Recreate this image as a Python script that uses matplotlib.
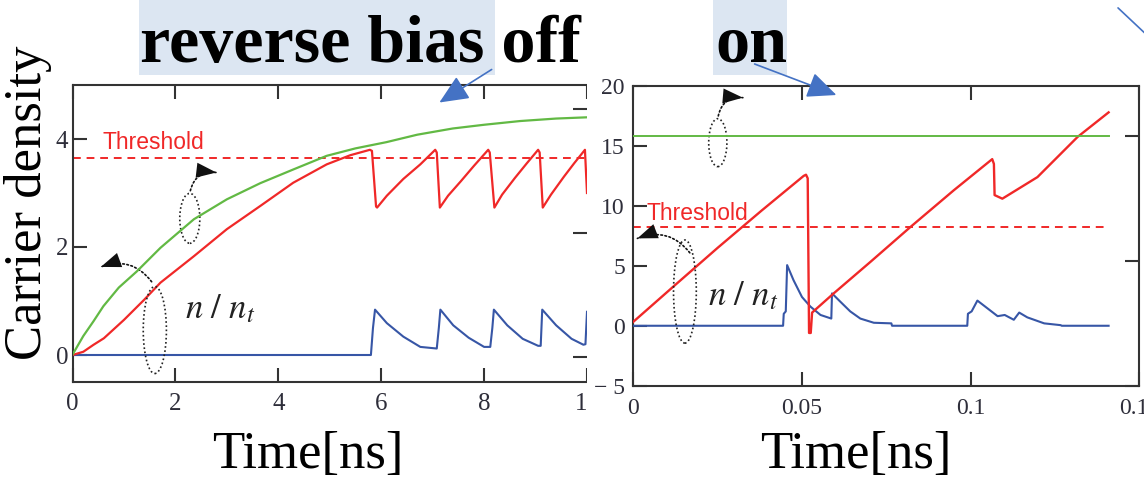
import matplotlib.pyplot as plt
from matplotlib.patches import Ellipse, Rectangle, FancyArrowPatch
import numpy as np

plt.rcParams['font.family'] = ['Liberation Serif', 'DejaVu Serif']
plt.rcParams['mathtext.fontset'] = 'stix'

# Data ========================================================================

# reverse bias off (left panel), time in ns
green_off_t = [0, 0.21, 0.41, 0.6, 0.9, 1.25, 1.71, 2.36, 3.0, 3.65, 4.29, 4.94,
               5.5, 6.1, 6.7, 7.39, 8.0, 8.7, 9.4, 10.0]
green_off = [0.02, 0.17, 0.29, 0.41, 0.56, 0.69, 0.88, 1.11, 1.27, 1.40, 1.51, 1.62,
             1.68, 1.73, 1.79, 1.84, 1.87, 1.90, 1.92, 1.93]   # right-hand scale

red_off_t = [0, 0.21, 0.41, 0.61, 1.0, 1.39, 1.71, 2.36, 3.0, 3.65, 4.29, 4.94, 5.4, 5.78,
             5.82, 5.9, 5.92, 6.11, 6.43, 6.76, 7.05,
             7.08, 7.14, 7.3, 7.55, 7.8, 8.08,
             8.11, 8.2, 8.35, 8.6, 8.83, 9.05,
             9.08, 9.14, 9.3, 9.55, 9.75, 9.96, 10.0]
red_off = [0, 0.06, 0.19, 0.31, 0.65, 1.02, 1.34, 1.83, 2.33, 2.76, 3.19, 3.53, 3.7, 3.8,
           3.78, 2.75, 2.73, 2.95, 3.26, 3.53, 3.8,
           3.75, 2.73, 2.95, 3.22, 3.5, 3.8,
           3.75, 2.73, 2.97, 3.28, 3.55, 3.8,
           3.75, 2.73, 2.97, 3.3, 3.55, 3.8, 3.0]

blue_off_t = [0, 5.8, 5.84, 5.88, 6.11, 6.43, 6.76, 7.08, 7.12, 7.15, 7.4, 7.7, 8.0,
              8.12, 8.16, 8.19, 8.45, 8.75, 9.05, 9.1, 9.13, 9.4, 9.7, 9.93, 9.97, 10.0]
blue_off = [0, 0, 0.5, 0.84, 0.59, 0.34, 0.15, 0.12, 0.5, 0.84, 0.55, 0.32, 0.15,
            0.15, 0.5, 0.84, 0.55, 0.3, 0.17, 0.17, 0.84, 0.55, 0.3, 0.19, 0.2, 0.8]
threshold_off = 3.65

# reverse bias on (right panel)
green_on_t = [0, 0.1409]
green_on = [2.0, 2.0]   # right-hand scale

red_on_t = [0, 0.012, 0.025, 0.038, 0.0505, 0.0512, 0.0517, 0.0521, 0.0526, 0.053,
            0.0594, 0.0703, 0.0822, 0.095, 0.1064, 0.1069, 0.1071, 0.1094, 0.1198,
            0.1317, 0.1409]
red_on = [0.33, 3.3, 6.5, 9.6, 12.5, 12.6, 12.3, -0.6, -0.6, 1.1,
          2.7, 5.33, 8.25, 11.3, 13.9, 13.5, 10.9, 10.6, 12.4,
          15.75, 17.8]

blue_on_t = [0, 0.0444, 0.0446, 0.0452, 0.0456, 0.0475, 0.05, 0.0525, 0.0555, 0.0587,
             0.0589, 0.0614, 0.0643, 0.0673, 0.0713, 0.0765, 0.0767, 0.099, 0.0992,
             0.1003, 0.102, 0.105, 0.108, 0.1101, 0.1128, 0.1144, 0.1168, 0.1218,
             0.1267, 0.127, 0.1409]
blue_on = [0, 0, 1.0, 1.2, 5.06, 3.8, 2.4, 1.6, 0.9, 0.6,
           2.7, 2.0, 1.2, 0.6, 0.25, 0.2, 0, 0, 1.0,
           1.2, 2.1, 1.45, 0.8, 0.9, 0.5, 1.1, 0.7, 0.2,
           0.05, 0, 0]
threshold_on = 8.25

off_xticks = [0, 2, 4, 6, 8, 10]
off_yticks = [0, 2, 4]
on_xticks = [0, 0.05, 0.1, 0.15]
on_xlabels = ['0', '0.05', '0.1', '0.15']
on_yticks = [-5, 0, 5, 10, 15, 20]
on_ylabels = ['\u2212 5', '0', '5', '10', '15', '20']

# Styles ======================================================================

RED = '#F02828'
GREEN = '#62B944'
BLUE = '#3756A6'
AXC = '#333333'
LBLC = '#2E2E3A'
SLIDE_BLUE = '#4472C4'
HILITE = '#DCE6F2'

W, H = 1144, 480


def box(l, t, r, b):
    return [l / W, 1 - b / H, (r - l) / W, (b - t) / H]


def fxy(x, y):
    return (x / W, 1 - y / H)


def style_axes(ax, twin, xpad, ypad, size):
    for s in ax.spines.values():
        s.set_color(AXC)
        s.set_linewidth(1.5)
    ax.tick_params(direction='in', length=10, width=1.5, color=AXC,
                   top=True, right=False, labelsize=size, labelcolor=LBLC)
    ax.tick_params(axis='x', pad=xpad)
    ax.tick_params(axis='y', pad=ypad)
    twin.tick_params(direction='in', length=10, width=1.5, color=AXC,
                     right=True, labelright=False)
    for s in twin.spines.values():
        s.set_visible(False)


def dotted_marker(ax, ell_xy, ell_w, ell_h, start, end, rad):
    ax.add_patch(Ellipse(ell_xy, ell_w, ell_h, transform=ax.transAxes, fill=False,
                         edgecolor='#222222', lw=1.2, linestyle=(0, (1, 1.5)), zorder=6))
    conn = 'arc3,rad=%s' % rad
    # dotted stem
    ax.add_patch(FancyArrowPatch(start, end, transform=ax.transAxes, arrowstyle='-',
                                 color='#111111', lw=1.2, linestyle=(0, (1, 1.5)),
                                 connectionstyle=conn, zorder=6))
    # solid filled head on the same path
    ax.add_patch(FancyArrowPatch(start, end, transform=ax.transAxes,
                                 arrowstyle='-|>,head_length=1.2,head_width=0.45',
                                 mutation_scale=12, facecolor='#111111',
                                 edgecolor='none', lw=0,
                                 connectionstyle=conn, zorder=6))


fig = plt.figure(figsize=(11.44, 4.8), dpi=100)

# Left panel: reverse bias off ===============================================
ax1 = fig.add_axes(box(72.5, 85, 587, 382))
ax1.set_zorder(1)
ax1r = ax1.twinx()
ax1r.set_zorder(2)

ax1.plot(red_off_t, red_off, color=RED, lw=1.6, zorder=4)
ax1.plot(blue_off_t, blue_off, color=BLUE, lw=1.5, zorder=3)
ax1.axhline(threshold_off, color=RED, lw=1.4, ls=(0, (4, 3)), zorder=2)
ax1r.plot(green_off_t, green_off, color=GREEN, lw=1.6)

ax1.set_xlim(0, 10)
ax1.set_ylim(-0.5, 5)
ax1r.set_ylim(-0.2, 2.19)
ax1.set_xticks(off_xticks)
ax1.set_yticks(off_yticks)
ax1r.set_yticks([0, 1, 2])
style_axes(ax1, ax1r, 8, 3, 18)
ax1.spines['right'].set_visible(False)

ax1.text(0.059, 0.808, 'Threshold', transform=ax1.transAxes, color=RED,
         fontsize=16.5, family='Liberation Sans', va='center', ha='left')
ax1.text(0.287, 0.242, r'$n\ /\ n_t$', transform=ax1.transAxes, fontsize=25,
         color='#222222', ha='center', va='center')
dotted_marker(ax1, (0.228, 0.551), 0.039, 0.168, (0.228, 0.635), (0.285, 0.704), -0.5)
dotted_marker(ax1, (0.160, 0.175), 0.045, 0.293, (0.157, 0.33), (0.05, 0.384), 0.4)

# white background of the second pasted picture
fig.add_artist(Rectangle((587 / W, 0), 1 - 587 / W, 1 - 78 / H, transform=fig.transFigure,
                         facecolor='white', edgecolor='none', zorder=3))

# Right panel: reverse bias on ================================================
ax2 = fig.add_axes(box(633.3, 86, 1139.3, 385.7))
ax2.set_zorder(4)
ax2r = ax2.twinx()
ax2r.set_zorder(5)

ax2.plot(red_on_t, red_on, color=RED, lw=1.7, zorder=4)
ax2.plot(blue_on_t, blue_on, color=BLUE, lw=1.5, zorder=3)
ax2.plot([0, 0.1405], [threshold_on, threshold_on], color=RED, lw=1.4,
         ls=(0, (4, 3)), zorder=2)
ax2r.plot(green_on_t, green_on, color=GREEN, lw=1.4)

ax2.set_xlim(0, 0.15)
ax2.set_ylim(-5, 20)
ax2r.set_ylim(0, 2.4)
ax2.set_xticks(on_xticks, on_xlabels)
ax2.set_yticks(on_yticks, on_ylabels)
ax2r.set_yticks([0, 1, 2])
style_axes(ax2, ax2r, 9, 6, 17)

ax2.text(0.026, 0.576, 'Threshold', transform=ax2.transAxes, color=RED,
         fontsize=16.5, family='Liberation Sans', va='center', ha='left')
ax2.text(0.217, 0.296, r'$n\ /\ n_t$', transform=ax2.transAxes, fontsize=25,
         color='#222222', ha='center', va='center')
dotted_marker(ax2, (0.167, 0.811), 0.036, 0.16, (0.167, 0.891), (0.222, 0.96), -0.5)
dotted_marker(ax2, (0.102, 0.314), 0.045, 0.344, (0.115, 0.436), (0.003, 0.488), 0.4)

# Slide texts =================================================================
fig.add_artist(Rectangle(fxy(139, 75), 356 / W, 75 / H, transform=fig.transFigure,
                         facecolor=HILITE, edgecolor='none', zorder=6))
fig.add_artist(Rectangle(fxy(713, 75), 74 / W, 75 / H, transform=fig.transFigure,
                         facecolor=HILITE, edgecolor='none', zorder=6))
fig.text(*fxy(140, 62), 'reverse bias off', fontsize=49, fontweight='bold',
         ha='left', va='baseline', color='#000000', zorder=7)
fig.text(*fxy(715, 62), 'on', fontsize=49, fontweight='bold',
         ha='left', va='baseline', color='#000000', zorder=7)

fig.text(*fxy(28, 203), 'Carrier density', rotation=90, fontsize=38,
         ha='center', va='center', zorder=7)
fig.text(*fxy(308, 468), 'Time[ns]', fontsize=38, ha='center', va='baseline', zorder=7)
fig.text(*fxy(856, 468), 'Time[ns]', fontsize=38, ha='center', va='baseline', zorder=7)

for a, b, head in [((494, 68), (437, 104), True),
                   ((752, 63), (839, 96), True),
                   ((1116, 6), (1150, 38), False)]:
    style = '-|>,head_length=0.9,head_width=0.4' if head else '-'
    fig.add_artist(FancyArrowPatch(fxy(*a), fxy(*b), transform=fig.transFigure,
                                   arrowstyle=style, mutation_scale=20,
                                   color=SLIDE_BLUE, lw=1.2, zorder=8))

fig.savefig('out.png', dpi=100)
